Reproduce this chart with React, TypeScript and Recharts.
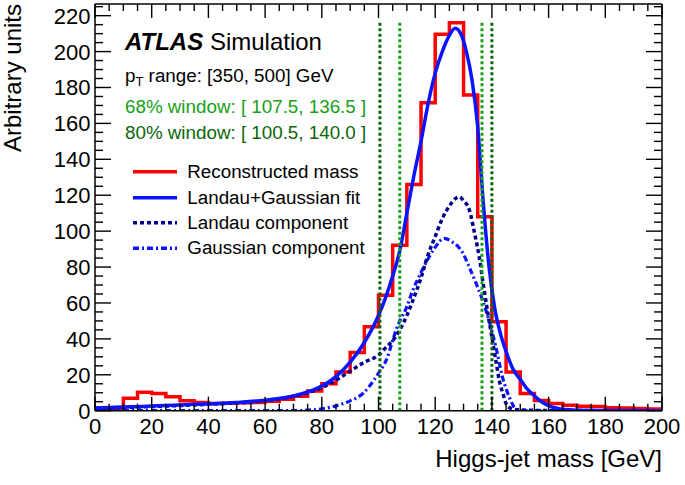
import { ComposedChart, Line, XAxis, YAxis, ReferenceLine } from "recharts";

// histogram: lower bin edges (GeV) and counts, 5 GeV bins
const binEdges = [
  0, 5, 10, 15, 20, 25, 30, 35, 40, 45, 50, 55, 60, 65, 70, 75, 80, 85, 90, 95,
  100, 105, 110, 115, 120, 125, 130, 135, 140, 145, 150, 155, 160, 165, 170, 175, 180, 185, 190, 195,
];
const recoCounts = [
  0.5, 0.5, 7, 10.3, 9.6, 7.7, 5.5, 4.6, 4.0, 4.2, 4.4, 4.6, 5.3, 6.4, 8.1, 11, 15, 21.6, 32.4, 46.7,
  64.3, 92.2, 126, 171.5, 209.7, 216, 175.8, 108, 49.5, 21.6, 9.6, 5.7, 4.0, 3.1, 2.5, 2.3, 1.6, 1.5, 1.2, 1.0,
];

// Landau+Gaussian fit
const fitMass = [
  0, 10, 20, 30, 40, 50, 60, 65, 70, 75, 80, 85, 90, 95, 100, 102.5, 105, 107.5, 110, 112.5, 115,
  117.5, 120, 122.5, 125, 127, 129, 131, 133, 135, 137, 139, 141, 143, 145, 147.5, 150, 152.5, 155,
  157.5, 160, 162.5, 165, 170, 180, 200,
];
const fitValues = [
  1.5, 2.0, 2.6, 3.2, 3.8, 4.6, 5.8, 6.8, 8.2, 10.5, 13.8, 19, 27, 38, 53, 63, 75, 89, 110, 131, 150,
  171, 188, 200, 209, 213, 210, 200, 184, 158, 115, 80, 57, 43, 33, 23, 17.5, 12, 8.3,
  5, 2.8, 1.5, 0.8, 0.3, 0.1, 0,
];

// Landau component
const landauMass = [
  0, 20, 40, 60, 70, 75, 80, 85, 90, 95, 100, 102.5, 105, 107.5, 110, 112.5, 115, 117.5, 120, 122.5,
  125, 127, 128.5, 130, 132, 134, 135.6, 137, 138.5, 140.2, 141.5, 142.6, 144, 145, 146.5, 150, 160, 200,
];
const landauValues = [
  1.3, 2.3, 3.6, 5.6, 8, 10, 12.8, 17, 22, 27, 31, 35, 39, 45, 53, 63, 74, 87, 97, 107,
  114, 118, 119, 117, 112, 98, 85, 70, 55, 39, 27, 17, 9, 4, 1.5, 0.4, 0.1, 0,
];

// Gaussian component
const gaussMass = [
  0, 70, 75, 80, 85, 90, 94.5, 97, 100, 102.7, 105, 106.2, 110, 112.1, 115, 118, 120, 123.2, 126,
  129.7, 132, 134.4, 137.9, 141.4, 143.7, 146.1, 148.4, 150, 160, 200,
];
const gaussValues = [
  0, 0, 0.3, 1, 2.7, 5.5, 9.6, 14, 21, 28, 39, 45, 58, 67, 77, 86, 91, 96, 94,
  88, 80, 71, 56, 35.5, 19, 7.7, 1, 0.2, 0, 0,
];

const windows68 = [107.5, 136.5];
const windows80 = [100.5, 140.0];

const xTicks = [
  0, 5, 10, 15, 20, 25, 30, 35, 40, 45, 50, 55, 60, 65, 70, 75, 80, 85, 90, 95, 100,
  105, 110, 115, 120, 125, 130, 135, 140, 145, 150, 155, 160, 165, 170, 175, 180, 185, 190, 195, 200,
];
const yTicks = [
  0, 5, 10, 15, 20, 25, 30, 35, 40, 45, 50, 55, 60, 65, 70, 75, 80, 85, 90, 95, 100, 105, 110,
  115, 120, 125, 130, 135, 140, 145, 150, 155, 160, 165, 170, 175, 180, 185, 190, 195, 200, 205,
  210, 215, 220, 225,
];

const histData = [
  ...binEdges.map((x, i) => ({ x, y: recoCounts[i] })),
  { x: 200, y: recoCounts[recoCounts.length - 1] },
  { x: 200, y: 0 },
];
const fitData = fitMass.map((x, i) => ({ x, y: fitValues[i] }));
const landauData = landauMass.map((x, i) => ({ x, y: landauValues[i] }));
const gaussData = gaussMass.map((x, i) => ({ x, y: gaussValues[i] }));

const FONT = '"Liberation Sans", Arial, Helvetica, sans-serif';
const RED = "#ff0000";
const BLUE = "#0a14ff";
const NAVY = "#00008c";
const GREEN_LIGHT = "#16a016";
const GREEN_DARK = "#0b660b";

const isMajor = (v: number) => v % 20 === 0;

const BottomTick = ({ x, y, payload }: any) => (
  <g>
    <line x1={x} x2={x} y1={y} y2={y - (isMajor(payload.value) ? 14 : 7)} stroke="#000" strokeWidth={1.4} />
    {isMajor(payload.value) && (
      <text x={x} y={y + 23.5} textAnchor="middle" fontSize={22} fontFamily={FONT} fill="#000">
        {payload.value}
      </text>
    )}
  </g>
);

const TopTick = ({ x, y, payload }: any) => (
  <line x1={x} x2={x} y1={y} y2={y + (isMajor(payload.value) ? 14 : 7)} stroke="#000" strokeWidth={1.4} />
);

const LeftTick = ({ x, y, payload }: any) => (
  <g>
    <line x1={x} x2={x + (isMajor(payload.value) ? 16 : 8)} y1={y} y2={y} stroke="#000" strokeWidth={1.4} />
    {isMajor(payload.value) && (
      <text x={x - 4.5} y={y + 8} textAnchor="end" fontSize={22} fontFamily={FONT} fill="#000">
        {payload.value}
      </text>
    )}
  </g>
);

const RightTick = ({ x, y, payload }: any) => (
  <line x1={x} x2={x - (isMajor(payload.value) ? 16 : 8)} y1={y} y2={y} stroke="#000" strokeWidth={1.4} />
);

const legendRows = [
  { label: "Reconstructed mass", color: RED, dash: undefined, y: 171.7 },
  { label: "Landau+Gaussian fit", color: BLUE, dash: undefined, y: 197.7 },
  { label: "Landau component", color: NAVY, dash: "4 3", y: 222.7 },
  { label: "Gaussian component", color: BLUE, dash: "6 3 2 3", y: 248.3 },
];

const axisLine = { stroke: "#000", strokeWidth: 1.5 };

export default function App() {
  return (
    <div style={{ position: "absolute", left: 0, top: 0, width: 685, height: 485, background: "#fff" }}>
      <ComposedChart width={685} height={485} margin={{ top: 3, right: 22, bottom: 44.3, left: 35 }}>
        <XAxis
          dataKey="x"
          type="number"
          domain={[0, 200]}
          allowDataOverflow
          ticks={xTicks}
          interval={0}
          tickSize={0}
          tickMargin={0}
          tickLine={false}
          tick={BottomTick}
          axisLine={axisLine}
          height={30}
        />
        <XAxis
          xAxisId="top"
          dataKey="x"
          type="number"
          orientation="top"
          domain={[0, 200]}
          allowDataOverflow
          ticks={xTicks}
          interval={0}
          tickSize={0}
          tickMargin={0}
          tickLine={false}
          tick={TopTick}
          axisLine={axisLine}
          height={1}
        />
        <YAxis
          type="number"
          domain={[0, 226.5]}
          allowDataOverflow
          ticks={yTicks}
          interval={0}
          tickSize={0}
          tickMargin={0}
          tickLine={false}
          tick={LeftTick}
          axisLine={axisLine}
          width={60}
        />
        <YAxis
          yAxisId="right"
          orientation="right"
          type="number"
          domain={[0, 226.5]}
          allowDataOverflow
          ticks={yTicks}
          interval={0}
          tickSize={0}
          tickMargin={0}
          tickLine={false}
          tick={RightTick}
          axisLine={axisLine}
          width={1}
        />
        <Line data={histData} dataKey="y" type="stepAfter" stroke={RED} strokeWidth={3.5} dot={false} activeDot={false} isAnimationActive={false} />
        <Line data={gaussData} dataKey="y" type="monotone" stroke={BLUE} strokeWidth={3.2} strokeDasharray="6 3 2 3" dot={false} activeDot={false} isAnimationActive={false} />
        <Line data={landauData} dataKey="y" type="monotone" stroke={NAVY} strokeWidth={3.5} strokeDasharray="4 3" dot={false} activeDot={false} isAnimationActive={false} />
        <Line data={fitData} dataKey="y" type="monotone" stroke={BLUE} strokeWidth={3.5} dot={false} activeDot={false} isAnimationActive={false} />
        {windows80.map((m) => (
          <ReferenceLine key={`w80-${m}`} segment={[{ x: m, y: 0 }, { x: m, y: 216 }]} stroke={GREEN_DARK} strokeWidth={3} strokeDasharray="3 2.5" />
        ))}
        {windows68.map((m) => (
          <ReferenceLine key={`w68-${m}`} segment={[{ x: m, y: 0 }, { x: m, y: 216 }]} stroke={GREEN_LIGHT} strokeWidth={3} strokeDasharray="3 2.5" />
        ))}
      </ComposedChart>

      <svg width={685} height={485} style={{ position: "absolute", left: 0, top: 0, pointerEvents: "none" }} fontFamily={FONT}>
        <text x={20.5} y={4} transform="rotate(-90, 20.5, 4)" textAnchor="end" fontSize={24} fill="#000">
          Arbitrary units
        </text>
        <text x={662} y={467} textAnchor="end" fontSize={24} fill="#000">
          Higgs-jet mass [GeV]
        </text>

        <text x={125} y={50} fontSize={24} fill="#000">
          <tspan fontWeight="bold" fontStyle="italic">ATLAS</tspan>
          <tspan> Simulation</tspan>
        </text>
        <text x={125} y={81.7} fontSize={18.8} fill="#000">
          <tspan>p</tspan>
          <tspan fontSize={13} dy={4}>T</tspan>
          <tspan dy={-4}> range: [350, 500] GeV</tspan>
        </text>
        <text x={125} y={112.5} fontSize={18.8} fill={GREEN_LIGHT}>
          68% window: [ 107.5, 136.5 ]
        </text>
        <text x={125} y={139.2} fontSize={18.8} fill={GREEN_DARK}>
          80% window: [ 100.5, 140.0 ]
        </text>

        {legendRows.map((r) => (
          <g key={r.label}>
            <line x1={133} x2={177} y1={r.y} y2={r.y} stroke={r.color} strokeWidth={3.5} strokeDasharray={r.dash} />
            <text x={187.3} y={r.y + 5.8} fontSize={18.8} fill="#000">
              {r.label}
            </text>
          </g>
        ))}
      </svg>
    </div>
  );
}
